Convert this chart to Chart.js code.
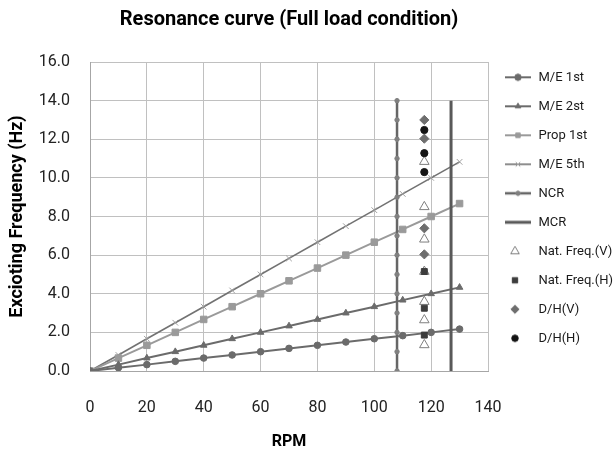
<!DOCTYPE html>
<html><head><meta charset="utf-8">
<script src="https://cdn.jsdelivr.net/npm/chart.js@4.4.0/dist/chart.umd.min.js"></script>
<style>html,body{margin:0;padding:0;background:#fff;}#wrap{width:614px;height:453px;}</style>
</head><body><div id="wrap"><canvas id="c" width="614" height="453"></canvas></div>
<script>
// ---- data ----
const rpm = [0,10,20,30,40,50,60,70,80,90,100,110,120,130];
const me1st = [0,0.17,0.33,0.5,0.67,0.83,1.0,1.17,1.33,1.5,1.67,1.83,2.0,2.17];
const me2st = [0,0.33,0.67,1.0,1.33,1.67,2.0,2.33,2.67,3.0,3.33,3.67,4.0,4.33];
const prop1st = [0,0.67,1.33,2.0,2.67,3.33,4.0,4.67,5.33,6.0,6.67,7.33,8.0,8.67];
const me5th = [0,0.83,1.67,2.5,3.33,4.17,5.0,5.83,6.67,7.5,8.33,9.17,10.0,10.83];
const ncrRpm = 108;
const ncrFreq = [0,1,2,3,4,5,6,7,8,9,10,11,12,13,14];
const mcrRpm = 127;
const mcrFreq = [0,14];
const testRpm = 117.6;
const natFreqV = [10.84,8.5,6.82,5.15,3.59,2.64,1.35];
const natFreqH = [5.15,3.25,1.86];
const dhV = [13.0,12.03,7.39,6.04];
const dhH = [12.48,11.28,10.3];
const xTicks = [0,20,40,60,80,100,120,140];
const yTicks = [0,2,4,6,8,10,12,14,16];
const labels = ['M/E 1st','M/E 2st','Prop 1st','M/E 5th','NCR','MCR','Nat. Freq.(V)','Nat. Freq.(H)','D/H(V)','D/H(H)'];

const pts = (xs, ys) => ys.map((y, i) => ({x: Array.isArray(xs) ? xs[i] : xs, y}));

function lineSet(label, xs, ys, color, width, style, radius, pcolor, order) {
  return {label, data: pts(xs, ys), showLine: true, borderColor: color, borderWidth: width,
    backgroundColor: pcolor, pointBackgroundColor: pcolor, pointBorderColor: pcolor,
    pointStyle: style, pointRadius: radius, pointBorderWidth: 1, order, _kind: 'line'};
}
function dotSet(label, ys, style, radius, fill, stroke, order) {
  return {label, data: pts(testRpm, ys), showLine: false, backgroundColor: fill, borderColor: stroke,
    pointBackgroundColor: fill, pointBorderColor: stroke, pointStyle: style, pointRadius: radius,
    pointBorderWidth: 1, order, _kind: 'dot'};
}

const datasets = [
  lineSet(labels[0], rpm, me1st, '#6b6b6b', 2, 'circle', 3.3, '#6b6b6b', 10),
  lineSet(labels[1], rpm, me2st, '#6b6b6b', 2, 'triangle', 3.8, '#6b6b6b', 10),
  lineSet(labels[2], rpm, prop1st, '#9a9a9a', 2, 'rect', 4.6, '#9a9a9a', 10),
  lineSet(labels[3], rpm, me5th, '#727272', 1.6, 'crossRot', 4, '#a0a0a0', 10),
  lineSet(labels[4], ncrRpm, ncrFreq, '#666666', 2.5, 'circle', 2.2, '#808080', 9),
  lineSet(labels[5], mcrRpm, mcrFreq, '#595959', 3, 'circle', 0, '#595959', 9),
  dotSet(labels[6], natFreqV, 'triangle', 5.5, '#ffffff', '#7f7f7f', 4),
  dotSet(labels[7], natFreqH, 'rect', 4.2, '#3c3c3c', '#3c3c3c', 3),
  dotSet(labels[8], dhV, 'rectRot', 4.6, '#6e6e6e', '#6e6e6e', 2),
  dotSet(labels[9], dhH, 'circle', 3.6, '#141414', '#141414', 1)
];

function legendIcon(ds) {
  const cv = document.createElement('canvas');
  cv.width = 28; cv.height = 14;
  const g = cv.getContext('2d');
  const cx = ds._kind === 'line' ? 14 : 11, cy = 7;
  if (ds._kind === 'line') {
    g.strokeStyle = ds.borderColor; g.lineWidth = ds.borderWidth;
    g.beginPath(); g.moveTo(1, cy); g.lineTo(27, cy); g.stroke();
  }
  if (ds.pointRadius > 0) {
    g.fillStyle = ds.pointBackgroundColor; g.strokeStyle = ds.pointBorderColor; g.lineWidth = 1;
    const r = ds._kind === 'line' ? Math.min(ds.pointRadius, 3.2) : ds.pointRadius * 0.9;
    Chart.helpers.drawPoint(g, {pointStyle: ds.pointStyle, radius: r, borderWidth: 1, rotation: 0}, cx, cy);
  }
  return cv;
}

const FONT = 'Roboto';
new Chart(document.getElementById('c'), {
  type: 'scatter',
  data: {datasets},
  options: {
    responsive: false, animation: false, devicePixelRatio: 1,
    layout: {padding: {top: 0, right: 0, bottom: 0, left: 0}},
    plugins: {
      tooltip: {enabled: false},
      title: {display: true, text: 'Resonance curve (Full load condition)', fullSize: false,
        color: '#000', font: {family: FONT, size: 20, weight: 'bold'}, padding: {top: 8, bottom: 30}},
      legend: {
        display: true, position: 'right', align: 'start', maxWidth: 126,
        title: {display: true, text: ' ', font: {size: 12}, padding: {top: 40.4, bottom: 0}},
        labels: {
          usePointStyle: true, pointStyleWidth: 28, padding: 16, color: '#1a1a1a',
          font: {family: FONT, size: 13},
          generateLabels: (chart) => chart.data.datasets.map((ds, i) => ({
            text: ds.label, pointStyle: legendIcon(ds), fillStyle: ds.backgroundColor,
            strokeStyle: ds.borderColor, lineWidth: 1, hidden: false, datasetIndex: i, fontColor: '#1a1a1a'
          }))
        }
      }
    },
    scales: {
      x: {
        type: 'linear', min: 0, max: 140,
        afterBuildTicks: (s) => { s.ticks = xTicks.map(v => ({value: v})); },
        afterFit: (s) => { s.height = 82; },
        grid: {color: '#c0c0c0', drawTicks: false},
        border: {color: '#a6a6a6'},
        ticks: {padding: 27, color: '#222', font: {family: FONT, size: 16}, callback: v => String(v)},
        title: {display: true, text: 'RPM', color: '#000', font: {family: FONT, size: 16, weight: 'bold'}, padding: {top: 0, bottom: 1.5}}
      },
      y: {
        type: 'linear', min: 0, max: 16,
        afterBuildTicks: (s) => { s.ticks = yTicks.map(v => ({value: v})); },
        afterFit: (s) => { s.width = 90; },
        grid: {color: '#c0c0c0', drawTicks: false},
        border: {color: '#a6a6a6'},
        ticks: {padding: 20, color: '#222', font: {family: FONT, size: 16}, callback: v => Number(v).toFixed(1)},
        title: {display: true, text: 'Excioting Frequency (Hz)', color: '#000', font: {family: FONT, size: 18, weight: 'bold'}, padding: {top: 7, bottom: 0}}
      }
    }
  }
});
</script></body></html>
